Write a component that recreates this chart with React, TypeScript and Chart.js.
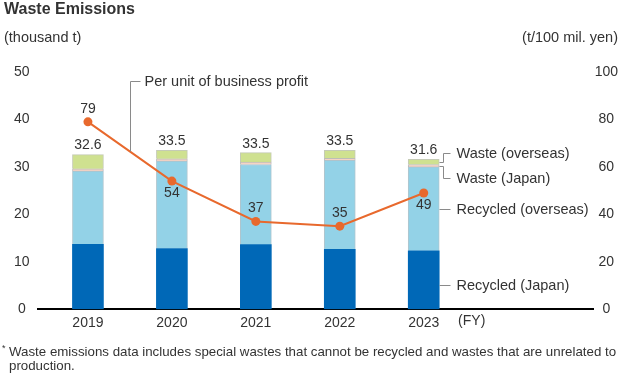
import React, { useEffect, useRef } from 'react';
import { Chart, registerables } from 'chart.js';

Chart.register(...registerables);

// ---- data ----
const years = ['2019', '2020', '2021', '2022', '2023'];
const recycledJapan = [13.7, 12.8, 13.6, 12.6, 12.3];
const recycledOverseas = [15.4, 18.4, 16.9, 18.8, 17.7];
const wasteJapan = [0.5, 0.5, 0.5, 0.4, 0.5];
const wasteOverseas = [3.0, 1.8, 2.0, 1.7, 1.1];
const totalLabels = ['32.6', '33.5', '33.5', '33.5', '31.6'];
const perUnitProfit = [79, 54, 37, 35, 49];
const perUnitLabelSide = ['above', 'below', 'above', 'above', 'below'];
const seriesNames = ['Recycled (Japan)', 'Recycled (overseas)', 'Waste (Japan)', 'Waste (overseas)'];
const lineName = 'Per unit of business profit';

const FONT = '"Liberation Sans", Arial, Helvetica, sans-serif';
const TEXT = '#333333';
const LEAD = '#8a8a8a';

const annotations = {
  id: 'annotations',
  afterDraw(chart: any) {
    const ctx = chart.ctx as CanvasRenderingContext2D;
    const xs = chart.scales.x;
    ctx.save();
    ctx.fillStyle = TEXT;
    ctx.textBaseline = 'middle';

    // title & units
    ctx.font = `bold 16px ${FONT}`;
    ctx.textAlign = 'left';
    ctx.fillText('Waste Emissions', 4, 10);
    ctx.font = `14.5px ${FONT}`;
    ctx.fillText('(thousand t)', 4, 38);
    ctx.textAlign = 'right';
    ctx.fillText('(t/100 mil. yen)', 618, 38);

    // totals above bars
    ctx.textAlign = 'center';
    ctx.font = `14px ${FONT}`;
    const topMeta = chart.getDatasetMeta(3);
    topMeta.data.forEach((el: any, i: number) => {
      ctx.fillText(totalLabels[i], el.x, el.y - 9);
    });

    // line value labels
    const lineMeta = chart.getDatasetMeta(4);
    lineMeta.data.forEach((el: any, i: number) => {
      const dy = perUnitLabelSide[i] === 'above' ? -13 : 12;
      ctx.fillText(String(perUnitProfit[i]), el.x, el.y + dy);
    });

    // leader for the line
    ctx.font = `14.5px ${FONT}`;
    ctx.strokeStyle = LEAD;
    ctx.lineWidth = 1;
    const p0 = lineMeta.data[0];
    const p1 = lineMeta.data[1];
    const lx = Math.round((p0.x + p1.x) / 2) + 0.5;
    const ly = 81.5;
    const lyEnd = (p0.y + p1.y) / 2;
    ctx.beginPath();
    ctx.moveTo(lx, lyEnd);
    ctx.lineTo(lx, ly);
    ctx.lineTo(lx + 10, ly);
    ctx.stroke();
    ctx.textAlign = 'left';
    ctx.fillText(lineName, lx + 14, ly);

    // right-hand series labels for last bar
    const last = years.length - 1;
    const seg = (d: number) => chart.getDatasetMeta(d).data[last];
    const right = Math.round(seg(0).x + seg(0).width / 2) + 0.5;
    const drawLeader = (fromY: number, toY: number, text: string) => {
      ctx.beginPath();
      if (Math.abs(fromY - toY) < 1) {
        ctx.moveTo(right, toY);
        ctx.lineTo(right + 11, toY);
      } else {
        ctx.moveTo(right, fromY);
        ctx.lineTo(right + 4, fromY);
        ctx.lineTo(right + 4, toY);
        ctx.lineTo(right + 11, toY);
      }
      ctx.stroke();
      ctx.fillText(text, right + 17, toY);
    };
    const wo = seg(3);
    const wj = seg(2);
    const ro = seg(1);
    const rj = seg(0);
    drawLeader(Math.round((wo.y + wo.base) / 2) + 0.5, Math.round(wo.y - 6) + 0.5, seriesNames[3]);
    drawLeader(Math.round((wj.y + wj.base) / 2) + 0.5, Math.round((wj.y + wj.base) / 2 + 12) + 0.5, seriesNames[2]);
    const roY = Math.round((ro.y + ro.base) / 2) + 0.5;
    drawLeader(roY, roY, seriesNames[1]);
    const rjY = Math.round((rj.y + rj.base) / 2 + 5) + 0.5;
    drawLeader(rjY, rjY, seriesNames[0]);

    // (FY)
    ctx.font = `14px ${FONT}`;
    ctx.textAlign = 'center';
    ctx.fillText('(FY)', xs.getPixelForValue(+years[last]) + 48, 321);

    // footnote
    ctx.textAlign = 'left';
    ctx.font = `9px ${FONT}`;
    ctx.fillText('*', 2, 349);
    ctx.font = `13.3px ${FONT}`;
    ctx.fillText(
      'Waste emissions data includes special wastes that cannot be recycled and wastes that are unrelated to',
      9,
      352
    );
    ctx.fillText('production.', 9, 366);
    ctx.restore();
  },
};

export default function App() {
  const ref = useRef<HTMLCanvasElement | null>(null);
  useEffect(() => {
    if (!ref.current) return;
    const barCommon = { barThickness: 31, order: 1, yAxisID: 'y' };
    const chart = new Chart(ref.current, {
      type: 'bar',
      data: {
        labels: years,
        datasets: [
          { ...barCommon, label: seriesNames[0], data: recycledJapan, backgroundColor: '#0068b7', borderWidth: 0 },
          { ...barCommon, label: seriesNames[1], data: recycledOverseas, backgroundColor: '#93d2e7', borderWidth: 1, borderColor: 'rgba(110,150,165,0.55)' },
          { ...barCommon, label: seriesNames[2], data: wasteJapan, backgroundColor: '#f6d3c4', borderWidth: 1, borderColor: 'rgba(140,140,140,0.55)' },
          { ...barCommon, label: seriesNames[3], data: wasteOverseas, backgroundColor: '#cfe190', borderWidth: 1, borderColor: 'rgba(150,160,120,0.55)' },
          {
            type: 'line',
            label: lineName,
            data: perUnitProfit,
            yAxisID: 'y1',
            order: 0,
            borderColor: '#e8692d',
            backgroundColor: '#e8692d',
            borderWidth: 2,
            pointRadius: 4.5,
            pointBorderWidth: 0,
            tension: 0,
          } as any,
        ],
      },
      options: {
        responsive: false,
        animation: false,
        devicePixelRatio: 1,
        layout: { padding: { top: 72, left: 6, right: 1, bottom: 49 } },
        plugins: { legend: { display: false }, tooltip: { enabled: false }, title: { display: false } },
        scales: {
          x: {
            type: 'linear',
            offset: false,
            min: 2018.4,
            max: 2025.024,
            stacked: true,
            grid: { display: false, drawTicks: false, offset: false },
            border: { display: true, color: '#000000', width: 2 },
            afterBuildTicks: (axis: any) => {
              axis.ticks = years.map((y) => ({ value: +y }));
            },
            ticks: {
              padding: 6,
              color: TEXT,
              font: { family: FONT, size: 14 },
              callback: (v: any) => String(v),
            },
          },
          y: {
            position: 'left',
            min: 0,
            max: 50,
            stacked: true,
            grid: { display: false, drawTicks: false },
            border: { display: false },
            ticks: { stepSize: 10, padding: 8, crossAlign: 'center', color: TEXT, font: { family: FONT, size: 14 } },
          },
          y1: {
            position: 'right',
            min: 0,
            max: 100,
            grid: { display: false, drawTicks: false },
            border: { display: false },
            ticks: { stepSize: 20, padding: 1, crossAlign: 'center', color: TEXT, font: { family: FONT, size: 14 } },
          },
        },
      } as any,
      plugins: [annotations],
    });
    return () => chart.destroy();
  }, []);
  return (
    <div style={{ position: 'absolute', left: 0, top: 0, width: 620, height: 387, background: '#fff' }}>
      <canvas ref={ref} width={620} height={387} style={{ display: 'block' }} />
    </div>
  );
}
